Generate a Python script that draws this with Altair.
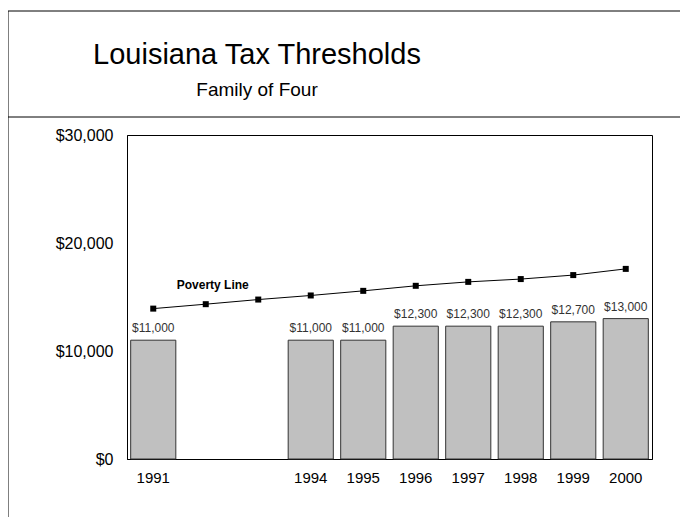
import altair as alt
import pandas as pd

years = ["1991", "1992", "1993", "1994", "1995", "1996", "1997", "1998", "1999", "2000"]
year_labels = ["1991", "1994", "1995", "1996", "1997", "1998", "1999", "2000"]
threshold = [11000, None, None, 11000, 11000, 12300, 12300, 12300, 12700, 13000]
poverty = [13924, 14335, 14763, 15141, 15569, 16036, 16400, 16660, 17029, 17603]
poverty_label = ["", "Poverty Line", "", "", "", "", "", "", "", ""]
y_ticks = [0, 10000, 20000, 30000]

title_text = "Louisiana Tax Thresholds"
subtitle_text = "Family of Four"

df = pd.DataFrame({
    "year": years,
    "threshold": threshold,
    "poverty": poverty,
    "plabel": poverty_label,
})
bars_df = df.dropna(subset=["threshold"])
one = pd.DataFrame({"k": [0]})

W, H = 525, 324
FONT = "Liberation Sans"

xscale = alt.Scale(domain=years, paddingInner=0.14, paddingOuter=0.07)
x = alt.X("year:N", sort=years, scale=xscale,
          axis=alt.Axis(title=None, labelAngle=0, ticks=False, domainColor="black",
                        values=year_labels,
                        labelFontSize=15, labelColor="black", labelPadding=11,
                        labelFont=FONT))
yscale = alt.Scale(domain=[0, 30000])

bars = alt.Chart(bars_df).mark_bar(color="#c0c0c0", stroke="#333333", strokeWidth=1).encode(
    x=x,
    y=alt.Y("threshold:Q", scale=yscale,
            axis=alt.Axis(title=None, format="$,.0f", values=y_ticks,
                          grid=False, ticks=False, domainColor="black",
                          labelFontSize=16, labelColor="black", labelPadding=14,
                          labelFont=FONT)),
)

bar_text = alt.Chart(bars_df).mark_text(baseline="bottom", dy=-5, fontSize=12, color="#333333",
                                        font=FONT).encode(
    x=alt.X("year:N", sort=years, scale=xscale),
    y=alt.Y("threshold:Q", scale=yscale),
    text=alt.Text("threshold:Q", format="$,.0f"),
)

line = alt.Chart(df).mark_line(color="black", strokeWidth=1).encode(
    x=alt.X("year:N", sort=years),
    y=alt.Y("poverty:Q", scale=yscale),
)
pts = alt.Chart(df).mark_point(shape="square", filled=True, color="black", size=36, opacity=1).encode(
    x=alt.X("year:N", sort=years),
    y=alt.Y("poverty:Q", scale=yscale),
)
plabel = alt.Chart(df).mark_text(baseline="bottom", dy=-12, dx=7, fontSize=12, fontWeight="bold",
                                 color="black", font=FONT).encode(
    x=alt.X("year:N", sort=years),
    y=alt.Y("poverty:Q", scale=yscale),
    text="plabel:N",
)

frame_top = alt.Chart(one).mark_rule(color="black", strokeWidth=1).encode(
    x=alt.value(-119), x2=alt.value(700), y=alt.value(-124))
frame_left = alt.Chart(one).mark_rule(color="black", strokeWidth=1).encode(
    x=alt.value(-119), y=alt.value(-124), y2=alt.value(500))
title_sep = alt.Chart(one).mark_rule(color="black", strokeWidth=1).encode(
    x=alt.value(-119), x2=alt.value(700), y=alt.value(-18))

title = alt.Chart(one).mark_text(fontSize=29, font=FONT, color="black",
                                 baseline="alphabetic", align="center").encode(
    x=alt.value(130), y=alt.value(-71), text=alt.value(title_text))
subtitle = alt.Chart(one).mark_text(fontSize=19, font=FONT, color="black",
                                    baseline="alphabetic", align="center").encode(
    x=alt.value(130), y=alt.value(-39), text=alt.value(subtitle_text))

chart = alt.layer(
    bars, bar_text, line, pts, plabel, frame_top, frame_left, title_sep, title, subtitle
).properties(
    width=W, height=H,
    autosize=alt.AutoSizeParams(type="none"),
    padding={"left": 119, "top": 127, "right": 28, "bottom": 58},
    background="white",
).configure_view(stroke="black", strokeWidth=1)

chart.save("out.html", embed_options={"renderer": "svg", "actions": False})
